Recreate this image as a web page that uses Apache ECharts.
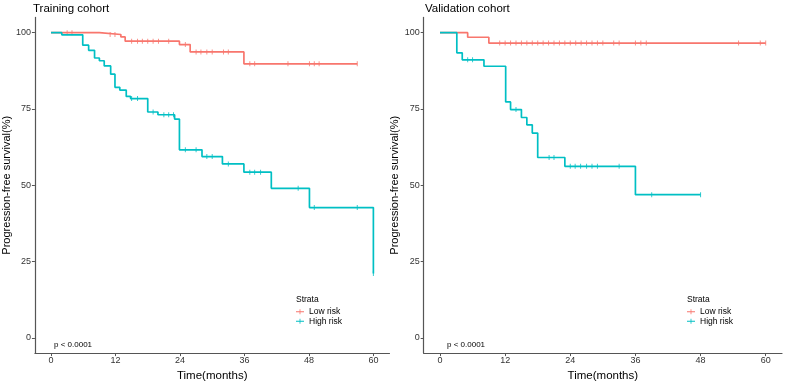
<!DOCTYPE html>
<html>
<head>
<meta charset="utf-8">
<script src="https://cdn.jsdelivr.net/npm/echarts@6/dist/echarts.min.js"></script>
<style>
  html, body { margin: 0; padding: 0; background: #fff; }
  #chart { width: 785px; height: 387px; }
</style>
</head>
<body>
<div id="chart"></div>
<script>
// tick labels
const xTicks = [0, 12, 24, 36, 48, 60]
const yTicks = [0, 25, 50, 75, 100]

// training cohort, KM steps [month, survival %]
const trainLow = [[0, 100], [9.0, 99.4], [13.0, 98.6], [13.8, 97.2], [23.9, 96.1], [25.9, 93.7], [35.9, 89.8], [57, 89.8]]
const trainLowCensor = [3.0, 3.9, 11.0, 11.9, 15.0, 16.1, 17.0, 18.0, 19.0, 20.0, 21.9, 25.0, 27.0, 27.9, 29.0, 30.0, 32.1, 33.0, 37.0, 37.9, 44.1, 48.1, 49.0, 49.9, 57.0]
const trainHigh = [[0, 100], [2.0, 99.3], [5.9, 95.9], [7.0, 94.2], [8.1, 91.7], [9.0, 90.8], [9.9, 89.1], [11.1, 86.4], [11.9, 82.1], [12.8, 81.2], [14.0, 79.1], [14.8, 78.4], [18.0, 74.0], [19.9, 73.1], [23.0, 71.7], [23.9, 61.6], [28.1, 59.4], [31.9, 57.0], [35.9, 54.3], [41.0, 49.0], [48.1, 42.7], [60, 21.1]]
const trainHighCensor = [15.0, 16.1, 19.0, 21.0, 21.9, 22.8, 25.0, 27.0, 29.0, 30.0, 33.0, 37.0, 37.9, 39.0, 46.0, 49.0, 57.0, 60.0]

// validation cohort
const validLow = [[0, 100], [5.1, 98.5], [9.0, 96.6], [60, 96.6]]
const validLowCensor = [11.0, 12.0, 13.0, 14.0, 15.0, 16.0, 17.0, 18.0, 19.0, 20.0, 21.0, 22.0, 23.0, 24.0, 25.0, 26.0, 27.0, 28.0, 29.0, 30.0, 32.0, 33.0, 36.0, 37.0, 38.0, 55.0, 59.0, 60.0]
const validHigh = [[0, 100], [3.1, 93.4], [4.1, 91.1], [8.1, 89.0], [12.1, 77.3], [13.0, 74.8], [15.0, 72.2], [16.0, 69.8], [17.0, 67.1], [18.0, 59.1], [23.0, 56.2], [36.0, 46.9], [48, 46.9]]
const validHighCensor = [5.1, 6.0, 14.0, 20.1, 21.0, 24.0, 24.9, 25.9, 27.0, 28.0, 29.0, 33.0, 39.0, 48.0]

const RED = '#F8766D'
const CYAN = '#00BFC4'
const FONT = '"Liberation Sans", Arial, sans-serif'

// survival value at time t (last step at or before t)
function survAt(steps, t) {
  let v = steps[0][1]
  for (const s of steps) { if (s[0] <= t + 1e-9) v = s[1] }
  return v
}

function xAxis(idx) {
  return {
    gridIndex: idx, type: 'value', min: -3, max: 63,
    name: 'Time(months)', nameLocation: 'middle', nameGap: 10,
    nameTextStyle: { fontFamily: FONT, fontSize: 11.5, color: '#000' },
    axisLine: { onZero: false, lineStyle: { color: '#555', width: 1.2 } },
    axisTick: { customValues: xTicks, length: 3, lineStyle: { color: '#555' } },
    axisLabel: { customValues: xTicks, fontFamily: FONT, fontSize: 9, color: '#333', margin: 3 },
    splitLine: { show: false }
  }
}

function yAxis(idx) {
  return {
    gridIndex: idx, type: 'value', min: -5, max: 105,
    name: 'Progression-free survival(%)', nameLocation: 'middle', nameGap: 15,
    nameTextStyle: { fontFamily: FONT, fontSize: 11, color: '#000' },
    axisLine: { show: true, onZero: false, lineStyle: { color: '#555', width: 1.2 } },
    axisTick: { show: true, customValues: yTicks, length: 3, lineStyle: { color: '#555' } },
    axisLabel: { customValues: yTicks, fontFamily: FONT, fontSize: 9, color: '#333', margin: 4 },
    splitLine: { show: false }
  }
}

function curve(name, idx, data, color) {
  return {
    name, type: 'line', step: 'end', xAxisIndex: idx, yAxisIndex: idx,
    data, showSymbol: false, silent: true,
    lineStyle: { color, width: 1.7 }, itemStyle: { color }
  }
}

function censor(idx, steps, times, color) {
  return {
    type: 'scatter', xAxisIndex: idx, yAxisIndex: idx, silent: true,
    data: times.map(t => [t, survAt(steps, t)]),
    symbol: 'rect', symbolSize: [1, 5], itemStyle: { color }
  }
}

function legend(left) {
  return {
    left, top: 307, orient: 'vertical', itemGap: 0, padding: 0,
    itemWidth: 8, itemHeight: 6,
    icon: 'path://M0,3.5 h10 v1 h-10 z M4.5,1 h1 v6 h-1 z',
    data: ['Low risk', 'High risk'],
    textStyle: { fontFamily: FONT, fontSize: 8.5, color: '#000', lineHeight: 9.5 },
    selectedMode: false
  }
}

function text(t, left, top, size) {
  return { text: t, left, top, padding: 0, textStyle: { fontFamily: FONT, fontSize: size, fontWeight: 'normal', color: '#000' } }
}

const chart = echarts.init(document.getElementById('chart'))
chart.setOption({
  animation: false,
  backgroundColor: '#fff',
  title: [
    text('Training cohort', 33, 3, 11.5),
    text('Validation cohort', 425, 3, 11.5),
    text('Strata', 296, 295, 8.5),
    text('Strata', 687, 295, 8.5),
    text('p < 0.0001', 54, 341, 8),
    text('p < 0.0001', 447, 341, 8)
  ],
  legend: [legend(296), legend(687)],
  grid: [
    { left: 31.75, top: 17.4, width: 357.75, height: 344.2 },
    { left: 423.7, top: 17.4, width: 358.3, height: 344.2 }
  ],
  xAxis: [xAxis(0), xAxis(1)],
  yAxis: [yAxis(0), yAxis(1)],
  series: [
    curve('Low risk', 0, trainLow, RED),
    curve('High risk', 0, trainHigh, CYAN),
    censor(0, trainLow, trainLowCensor, RED),
    censor(0, trainHigh, trainHighCensor, CYAN),
    curve('Low risk', 1, validLow, RED),
    curve('High risk', 1, validHigh, CYAN),
    censor(1, validLow, validLowCensor, RED),
    censor(1, validHigh, validHighCensor, CYAN)
  ]
})
</script>
</body>
</html>
